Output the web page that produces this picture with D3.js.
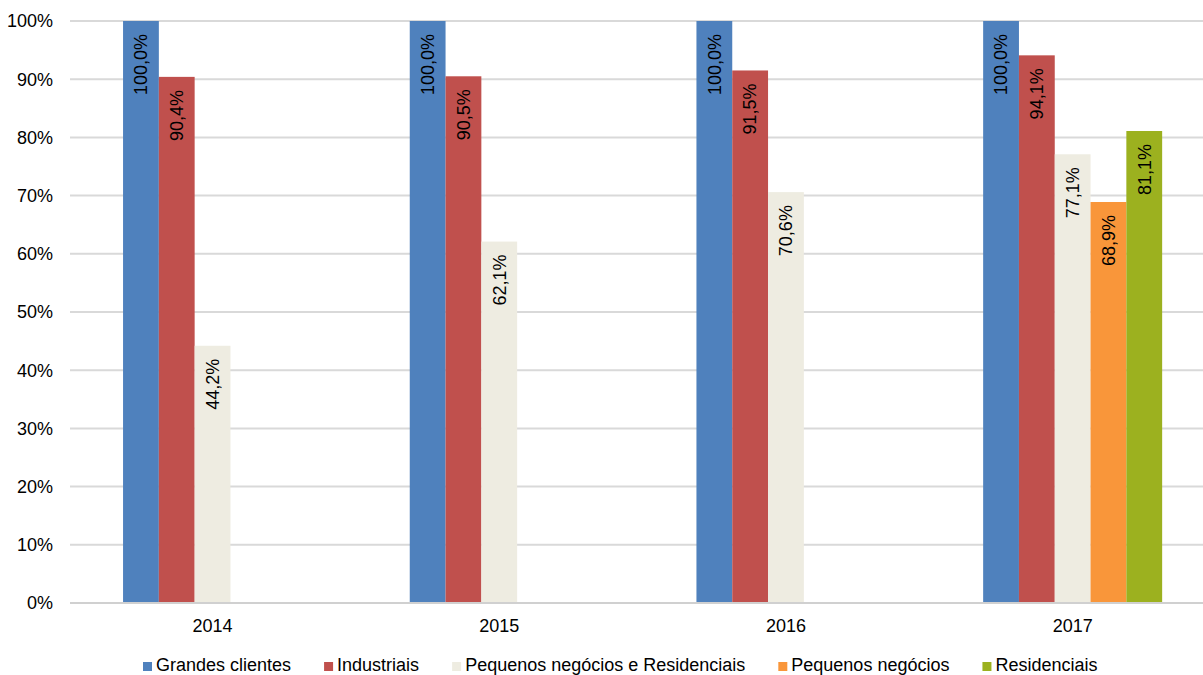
<!DOCTYPE html>
<html><head><meta charset="utf-8">
<script src="https://cdnjs.cloudflare.com/ajax/libs/d3/7.8.5/d3.min.js"></script>
<style>body{margin:0;background:#fff}svg{display:block;font-family:"Liberation Sans",Arial,sans-serif}</style>
</head><body><svg id="c" width="1203" height="675"></svg>
<script>
const years = ["2014","2015","2016","2017"];
const seriesNames = ["Grandes clientes","Industriais","Pequenos negócios e Residenciais","Pequenos negócios","Residenciais"];
const seriesColors = ["#4F81BD","#C0504D","#EEECE1","#F9963A","#9CB11F"];
const grandesClientes = [100.0,100.0,100.0,100.0];
const industriais = [90.4,90.5,91.5,94.1];
const pequenosResidenciais = [44.2,62.1,70.6,77.1];
const pequenosNegocios = [null,null,null,68.9];
const residenciais = [null,null,null,81.1];
const yTicks = [0,10,20,30,40,50,60,70,80,90,100];

const seriesValues = [grandesClientes,industriais,pequenosResidenciais,pequenosNegocios,residenciais];
const svg = d3.select("#c");
const L = 70, R = 1203, T = 21, B = 603;
const y = d3.scaleLinear().domain([0,100]).range([B,T]);
const x0 = d3.scaleBand().domain(years).range([69.2,1216]).padding(0);
const groupW = 179;
const x1 = d3.scaleBand().domain(d3.range(5)).range([0,groupW]).padding(0);

// gridlines
svg.append("g").selectAll("line").data(yTicks).join("line")
  .attr("x1",L).attr("x2",R).attr("y1",d=>y(d)).attr("y2",d=>y(d))
  .attr("stroke","#D9D9D9").attr("stroke-width",2);

// y labels
svg.append("g").selectAll("text").data(yTicks).join("text")
  .attr("x",53).attr("y",d=>y(d)).attr("dy","0.35em").attr("text-anchor","end")
  .attr("font-size",18).attr("fill","#000").text(d=>d+"%");

// bars
const fmt = v => v.toFixed(1).replace(".",",")+"%";
seriesValues.forEach((vals,si)=>{
  const g = svg.append("g");
  const data = years.map((yr,i)=>({yr,v:vals[i]})).filter(d=>d.v!=null);
  g.selectAll("rect").data(data).join("rect")
    .attr("x",d=>x0(d.yr)+(x0.bandwidth()-groupW)/2+x1(si))
    .attr("width",x1.bandwidth())
    .attr("y",d=>y(d.v)).attr("height",d=>B-y(d.v))
    .attr("fill",seriesColors[si]);
  g.selectAll("text").data(data).join("text")
    .attr("transform",d=>{
      const cx = x0(d.yr)+(x0.bandwidth()-groupW)/2+x1(si)+x1.bandwidth()/2;
      return `translate(${cx},${y(d.v)+13}) rotate(-90)`;})
    .attr("text-anchor","end").attr("dy","0.35em")
    .attr("font-size",18).attr("fill","#000").text(d=>fmt(d.v));
});

// baseline
svg.append("line").attr("x1",L).attr("x2",R).attr("y1",B).attr("y2",B)
  .attr("stroke","#D0D0D0").attr("stroke-width",2);

// x labels
svg.append("g").selectAll("text").data(years).join("text")
  .attr("x",d=>x0(d)+x0.bandwidth()/2).attr("y",632).attr("text-anchor","middle")
  .attr("font-size",18).attr("fill","#000").text(d=>d);

// legend
const lg = svg.append("g");
let lx = 143;
seriesNames.forEach((n,i)=>{
  lg.append("rect").attr("x",lx).attr("y",662).attr("width",9).attr("height",9).attr("fill",seriesColors[i]);
  const t = lg.append("text").attr("x",lx+13).attr("y",671).attr("font-size",18).attr("fill","#000").text(n);
  lx += 13 + t.node().getComputedTextLength() + 33;
});
</script></body></html>
